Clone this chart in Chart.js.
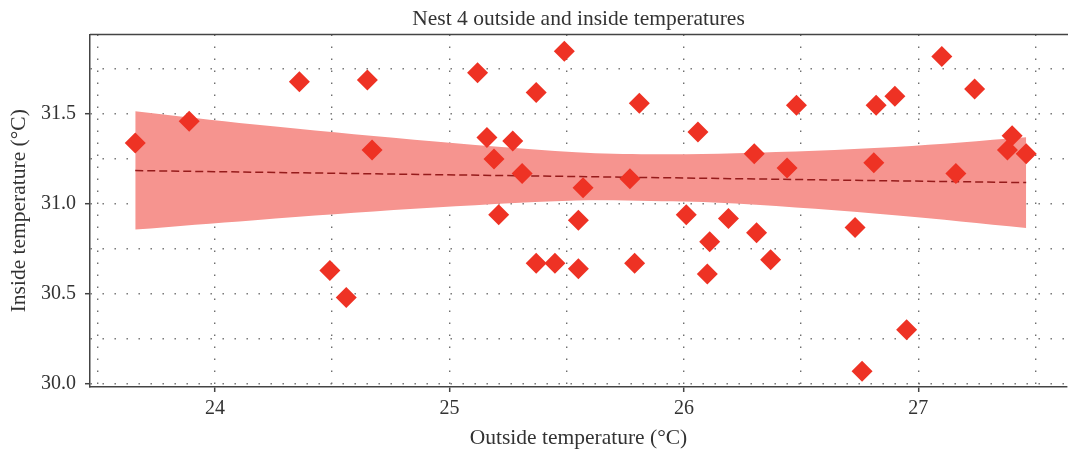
<!DOCTYPE html>
<html>
<head>
<meta charset="utf-8">
<script src="https://cdn.jsdelivr.net/npm/chart.js@4/dist/chart.umd.min.js"></script>
<style>
  html, body { margin: 0; padding: 0; background: #ffffff; }
  #wrap { width: 1068px; height: 451px; position: relative; }
</style>
</head>
<body>
<div id="wrap"><canvas id="c" width="1068" height="451"></canvas></div>
<script>
// ---- Data ----
const outsideTemp = [23.66, 23.89, 24.36, 24.65, 24.67, 24.49, 24.56, 25.12, 25.49, 25.37,
  25.16, 25.27, 25.19, 25.31, 25.21, 25.37, 25.45, 25.81, 26.06, 25.77,
  25.57, 25.55, 25.55, 25.79, 26.01, 26.11, 26.10, 26.19, 26.48, 26.30,
  26.44, 26.31, 26.37, 26.82, 26.81, 26.73, 26.76, 26.90, 27.10, 27.24,
  27.16, 27.40, 27.38, 27.46, 26.95];
const insideTemp = [31.34, 31.46, 31.68, 31.69, 31.30, 30.63, 30.48, 31.73, 31.85, 31.62,
  31.37, 31.35, 31.25, 31.17, 30.94, 30.67, 30.67, 31.56, 31.40, 31.14,
  31.09, 30.91, 30.64, 30.67, 30.94, 30.79, 30.61, 30.92, 31.55, 31.28,
  31.20, 30.84, 30.69, 31.55, 31.23, 30.87, 30.07, 31.60, 31.82, 31.64,
  31.17, 31.38, 31.30, 31.28, 30.30];

// Confidence band of the fit
const bandX     = [23.66, 24.17, 24.85, 25.54, 25.86, 26.22, 26.90, 27.46];
const bandUpper = [31.516, 31.442, 31.358, 31.288, 31.277, 31.282, 31.317, 31.371];
const bandLower = [30.858, 30.910, 30.973, 31.019, 31.017, 31.003, 30.938, 30.867];

// Fitted line
const fitX = [23.66, 27.46];
const fitY = [31.186, 31.119];

// Ticks
const xGridTicks = [23.5, 24, 24.5, 25, 25.5, 26, 26.5, 27, 27.5];
const xLabelTicks = [24, 25, 26, 27];
const yGridTicks = [30.0, 30.25, 30.5, 30.75, 31.0, 31.25, 31.5, 31.75];
const yLabelTicks = [30.0, 30.5, 31.0, 31.5];

const titleText = 'Nest 4 outside and inside temperatures';
const xTitle = 'Outside temperature (°C)';
const yTitle = 'Inside temperature (°C)';

// ---- Build ----
const zip = (xs, ys) => xs.map((x, i) => ({ x: x, y: ys[i] }));
const isMajor = (list, v) => list.some(t => Math.abs(t - v) < 1e-6);

const FONT = "'Liberation Serif', 'DejaVu Serif', serif";
const TEXT = '#333333';
const AXIS = '#444444';
const GRID = '#6e6e6e';

const topBorder = {
  id: 'topBorder',
  afterDraw(chart) {
    const { ctx, chartArea } = chart;
    ctx.save();
    ctx.strokeStyle = AXIS;
    ctx.lineWidth = 1.5;
    ctx.beginPath();
    ctx.moveTo(chartArea.left, chartArea.top);
    ctx.lineTo(chart.width, chartArea.top);
    ctx.stroke();
    ctx.restore();
  }
};

new Chart(document.getElementById('c'), {
  type: 'scatter',
  data: {
    datasets: [
      {
        label: 'points',
        data: zip(outsideTemp, insideTemp),
        pointStyle: 'rectRot',
        pointRadius: 10.5,
        pointHoverRadius: 10.5,
        backgroundColor: 'rgb(238,50,36)',
        borderWidth: 0,
        showLine: false
      },
      {
        label: 'fit',
        data: zip(fitX, fitY),
        showLine: true,
        borderColor: '#951b1b',
        borderWidth: 1.5,
        borderDash: [8, 4],
        pointRadius: 0,
        fill: false
      },
      {
        label: 'upper',
        data: zip(bandX, bandUpper),
        showLine: true,
        borderWidth: 0,
        borderColor: 'rgba(0,0,0,0)',
        backgroundColor: 'rgb(246,148,143)',
        pointRadius: 0,
        tension: 0.35,
        fill: '+1'
      },
      {
        label: 'lower',
        data: zip(bandX, bandLower),
        showLine: true,
        borderWidth: 0,
        borderColor: 'rgba(0,0,0,0)',
        pointRadius: 0,
        tension: 0.35,
        fill: false
      }
    ]
  },
  options: {
    responsive: false,
    animation: false,
    layout: { autoPadding: false, padding: { left: 0, right: 1, top: 0, bottom: 0 } },
    plugins: {
      legend: { display: false },
      tooltip: { enabled: false },
      title: {
        display: true,
        text: titleText,
        fullSize: false,
        color: TEXT,
        font: { family: FONT, size: 21.5, weight: 'normal' },
        padding: { top: 6, bottom: 2.7 }
      }
    },
    scales: {
      x: {
        type: 'linear',
        min: 23.467,
        max: 27.634,
        afterBuildTicks(scale) { scale.ticks = xGridTicks.map(v => ({ value: v })); },
        afterFit(scale) { scale.height = 64; scale.paddingLeft = 0; scale.paddingRight = 0; },
        ticks: {
          color: TEXT,
          font: { family: FONT, size: 20 },
          padding: 5,
          maxRotation: 0,
          autoSkip: false,
          callback: (v) => isMajor(xLabelTicks, v) ? String(v) : ''
        },
        grid: {
          color: GRID,
          lineWidth: 1.4,
          drawTicks: true,
          tickLength: 5,
          tickWidth: 1.5,
          tickBorderDash: [],
          tickColor: (ctx) => (ctx.tick && isMajor(xLabelTicks, ctx.tick.value)) ? AXIS : 'rgba(0,0,0,0)'
        },
        border: { display: true, color: AXIS, width: 1.5, dash: [1.4, 10.6] },
        title: {
          display: true,
          text: xTitle,
          color: TEXT,
          font: { family: FONT, size: 21.5 },
          padding: { top: 0, bottom: 0 }
        }
      },
      y: {
        type: 'linear',
        min: 29.982,
        max: 31.943,
        afterBuildTicks(scale) { scale.ticks = yGridTicks.map(v => ({ value: v })); },
        afterFit(scale) { scale.width = 90; },
        ticks: {
          color: TEXT,
          font: { family: FONT, size: 20 },
          padding: 9,
          autoSkip: false,
          callback: (v) => isMajor(yLabelTicks, v) ? Number(v).toFixed(1) : ''
        },
        grid: {
          color: GRID,
          lineWidth: 1.4,
          drawTicks: true,
          tickLength: 5,
          tickWidth: 1.5,
          tickBorderDash: [],
          tickColor: (ctx) => (ctx.tick && isMajor(yLabelTicks, ctx.tick.value)) ? AXIS : 'rgba(0,0,0,0)'
        },
        border: { display: true, color: AXIS, width: 1.5, dash: [1.4, 10.6] },
        title: {
          display: true,
          text: yTitle,
          color: TEXT,
          font: { family: FONT, size: 21.5 },
          padding: { top: 6, bottom: 0 }
        }
      }
    }
  },
  plugins: [topBorder]
});
</script>
</body>
</html>
